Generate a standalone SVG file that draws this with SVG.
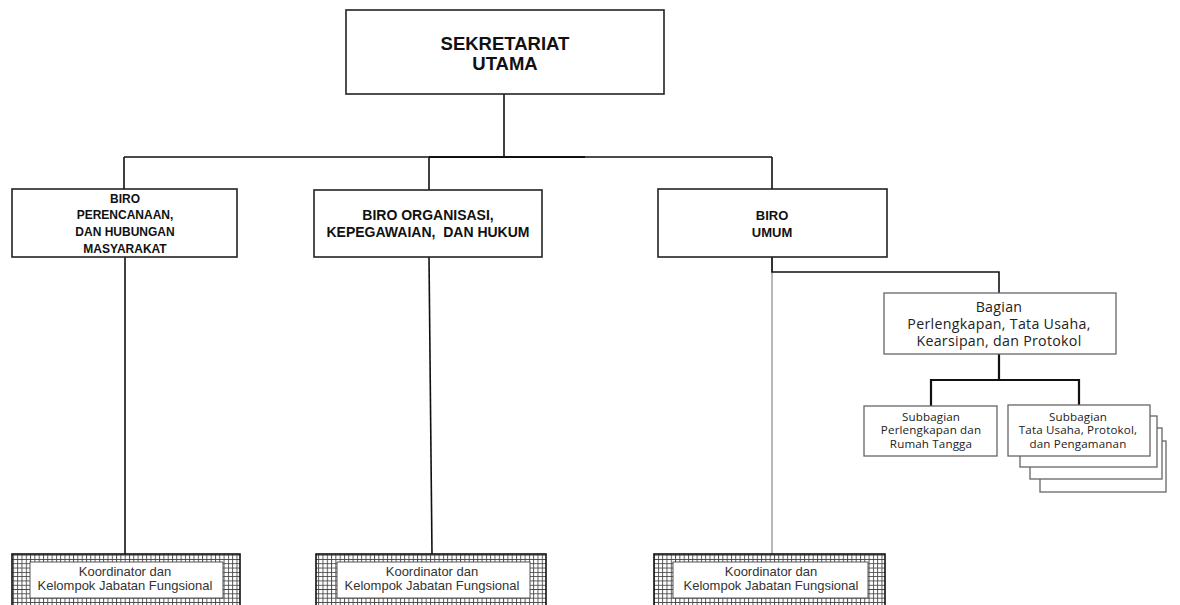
<svg xmlns="http://www.w3.org/2000/svg" width="1180" height="605" viewBox="0 0 1180 605">
<defs>
<pattern id="grid" width="4.3" height="4.3" patternUnits="userSpaceOnUse">
<rect width="4.3" height="4.3" fill="#ffffff"/>
<path d="M0 0.5H4.3M0.5 0V4.3" stroke="#444" stroke-width="0.9"/>
</pattern>
</defs>
<style>
.box{fill:#fff;stroke:#222;stroke-width:1.6}
.sbox{fill:#fff;stroke:#666;stroke-width:1.3}
.kbox{fill:url(#grid);stroke:#111;stroke-width:1.6}
.kin{fill:#fff;stroke:#444;stroke-width:0.9}
.c{fill:none;stroke:#111;stroke-width:1.6}
.cg{fill:none;stroke:#888;stroke-width:1.2}
.cb{fill:none;stroke:#111;stroke-width:2.2}
.tb{font-family:"Liberation Sans",Arial,sans-serif;font-weight:bold;fill:#111;text-anchor:middle}
.tc{font-family:"Open Sans","Noto Sans",sans-serif;fill:#222;text-anchor:middle;font-size:14.2px;letter-spacing:0.3px}
.ts{font-family:"Open Sans","Noto Sans",sans-serif;fill:#222;text-anchor:middle;font-size:11.6px;letter-spacing:0.15px}
.tk{font-family:"Liberation Sans",Arial,sans-serif;fill:#333;text-anchor:middle;font-size:13px}
</style>
<g id="connectors">
<path class="c" d="M504 94V157"/>
<path class="c" d="M124 157H772"/>
<path class="cb" d="M429 157H585"/>
<path class="c" d="M124 157V189M429 157V190M772 157V189"/>
<path class="c" d="M125 257V554"/>
<path class="c" d="M429 257L432 554"/>
<path class="cg" d="M772 257V554"/>
<path class="c" d="M772 257V272H999V293"/>
<path class="cb" d="M999 354V380M931 406V380H1079V406"/>
</g>
<g id="sekretariat">
<rect class="box" x="346" y="10" width="318" height="84"/>
<text class="tb" font-size="18.5" x="505" y="50">SEKRETARIAT</text>
<text class="tb" font-size="18.5" x="505" y="70">UTAMA</text>
</g>
<g id="biro-perencanaan">
<rect class="box" x="12" y="189" width="225" height="68"/>
<text class="tb" font-size="12" x="125" y="203">BIRO</text>
<text class="tb" font-size="12" x="125" y="219">PERENCANAAN,</text>
<text class="tb" font-size="12" x="125" y="236">DAN HUBUNGAN</text>
<text class="tb" font-size="12" x="125" y="253">MASYARAKAT</text>
</g>
<g id="biro-organisasi">
<rect class="box" x="314" y="190" width="228" height="67"/>
<text class="tb" font-size="14" x="428" y="220">BIRO ORGANISASI,</text>
<text class="tb" font-size="14" x="428" y="237" xml:space="preserve">KEPEGAWAIAN,  DAN HUKUM</text>
</g>
<g id="biro-umum">
<rect class="box" x="658" y="189" width="229" height="68"/>
<text class="tb" font-size="13" x="772" y="220">BIRO</text>
<text class="tb" font-size="13" x="772" y="237">UMUM</text>
</g>
<g id="bagian">
<rect class="sbox" x="884" y="293" width="232" height="61"/>
<text class="tc" x="999" y="311.5">Bagian</text>
<text class="tc" x="999" y="328.5">Perlengkapan, Tata Usaha,</text>
<text class="tc" x="999" y="345.5">Kearsipan, dan Protokol</text>
</g>
<g id="subbagian-perlengkapan">
<rect class="sbox" x="864" y="406" width="133" height="50"/>
<text class="ts" x="931" y="420.5">Subbagian</text>
<text class="ts" x="931" y="434">Perlengkapan dan</text>
<text class="ts" x="931" y="447.5">Rumah Tangga</text>
</g>
<g id="subbagian-tata-usaha">
<rect class="sbox" x="1040" y="441" width="126" height="51"/>
<rect class="sbox" x="1030" y="428" width="132" height="51"/>
<rect class="sbox" x="1020" y="416" width="137" height="51"/>
<rect class="sbox" x="1008" y="405" width="142" height="51"/>
<text class="ts" x="1078" y="420.5">Subbagian</text>
<text class="ts" x="1078" y="434">Tata Usaha, Protokol,</text>
<text class="ts" x="1078" y="447.5">dan Pengamanan</text>
</g>
<g id="koordinator-1">
<rect class="kbox" x="12" y="554" width="228" height="52"/>
<rect class="kin" x="30" y="562" width="193" height="36"/>
<text class="tk" x="125" y="576">Koordinator dan</text>
<text class="tk" x="125" y="590">Kelompok Jabatan Fungsional</text>
</g>
<g id="koordinator-2">
<rect class="kbox" x="316" y="554" width="230" height="52"/>
<rect class="kin" x="337" y="562" width="193" height="36"/>
<text class="tk" x="432" y="576">Koordinator dan</text>
<text class="tk" x="432" y="590">Kelompok Jabatan Fungsional</text>
</g>
<g id="koordinator-3">
<rect class="kbox" x="654" y="554" width="231" height="52"/>
<rect class="kin" x="673" y="562" width="195" height="36"/>
<text class="tk" x="771" y="576">Koordinator dan</text>
<text class="tk" x="771" y="590">Kelompok Jabatan Fungsional</text>
</g>
</svg>
